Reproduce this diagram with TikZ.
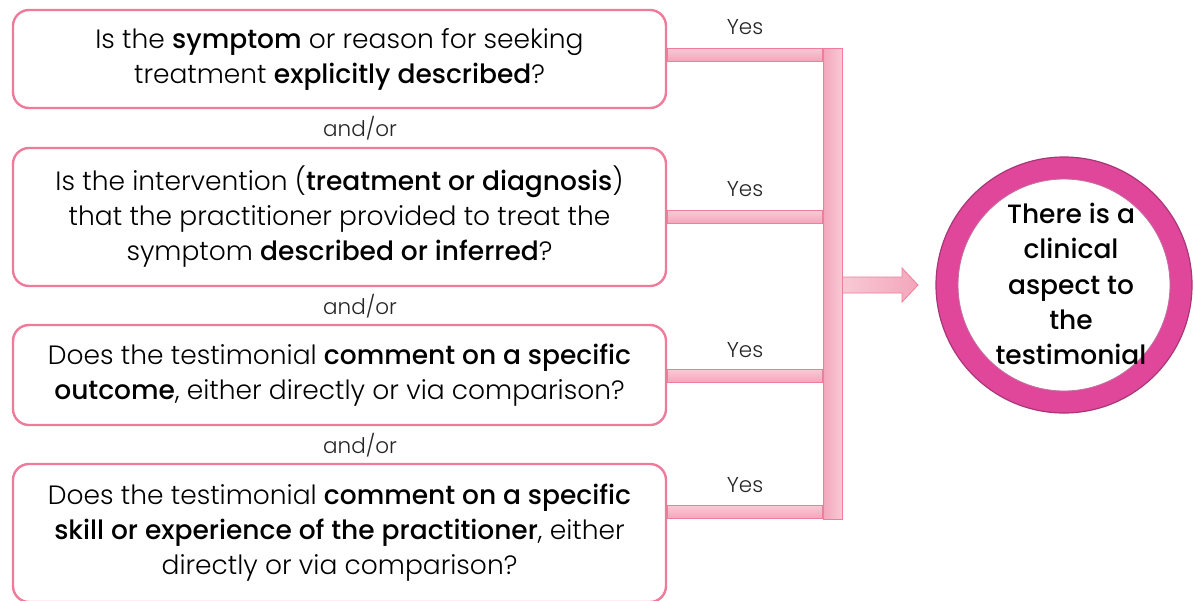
\documentclass[tikz,border=0pt]{standalone}
\usepackage{fontspec}
\setmainfont{Poppins}[UprightFont=* Light, BoldFont=* Medium]
\usetikzlibrary{calc}
\definecolor{boxline}{HTML}{EF7B9B}
\definecolor{barA}{HTML}{F3A6BB}
\definecolor{barB}{HTML}{F9C9D5}
\definecolor{barline}{HTML}{EE7E9C}
\definecolor{ring}{HTML}{E0479B}
\definecolor{ringdark}{HTML}{A93676}
\begin{document}
\begin{tikzpicture}[x=1pt,y=-1pt,
  qbox/.style={draw=boxline, line width=2.4pt, rounded corners=16pt, fill=white,
    minimum width=653pt, align=center, inner sep=0pt,
    font=\fontsize{26.5}{35}\selectfont, text=black},
  andor/.style={font=\fontsize{21.5}{22}\selectfont, text=black!85},
  yes/.style={font=\fontsize{21.5}{22}\selectfont, text=black!85},
  hbar/.style={draw=barline, line width=0.8pt, top color=barB, bottom color=barA},
  vbar/.style={draw=barline, line width=0.8pt, left color=barA, right color=barB},
  goal/.style={font=\bfseries\fontsize{26.5}{35.3}\selectfont, align=center, text=black}
]
\useasboundingbox (0,0) rectangle (1194,600);

% question boxes
\node[qbox, minimum height=98pt] (b1) at (339.5,59)
  {Is the \textbf{symptom} or reason for seeking\\treatment \textbf{explicitly described}?};
\node[qbox, minimum height=138pt] (b2) at (339.5,217)
  {Is the intervention (\textbf{treatment or diagnosis})\\that the practitioner provided to treat the\\symptom \textbf{described or inferred}?};
\node[qbox, minimum height=100pt] (b3) at (339.5,375)
  {Does the testimonial \textbf{comment on a specific}\\\textbf{outcome}, either directly or via comparison?};
\node[qbox, minimum height=138pt] (b4) at (339.5,533)
  {Does the testimonial \textbf{comment on a specific}\\\textbf{skill or experience of the practitioner}, either\\directly or via comparison?};

% and/or labels
\node[andor] (a1) at (360,128) {and/or};
\node[andor] (a2) at (360,306) {and/or};
\node[andor] (a3) at (360,445) {and/or};

% vertical bus
\node[vbar, minimum width=19pt, minimum height=471pt, inner sep=0pt] (bus) at (832.5,283.5) {};

% horizontal bars
\coordinate (y1) at (0,54.5);
\coordinate (y2) at (0,217);
\coordinate (y3) at (0,376);
\coordinate (y4) at (0,512);
\foreach \i in {1,2,3,4}{
  \path[hbar] ($(b\i.east |- y\i)+(0,-6.5)$) rectangle ($(bus.west |- y\i)+(0,6.5)$);
}

% yes labels
\node[yes] (l1) at (745,27) {Yes};
\node[yes] (l2) at (745,189) {Yes};
\node[yes] (l3) at (745,350) {Yes};
\node[yes] (l4) at (745,485) {Yes};

% goal circle
\node[circle, minimum size=256pt, inner sep=0pt] (goal) at (1064,285) {};
\draw[ring, line width=22pt] (goal.center) circle (117);
\draw[ringdark, line width=1.2pt] (goal.center) circle (128);
\draw[ringdark!70, line width=0.8pt] (goal.center) circle (106);
\node[goal] (gt) at (1071,284) {There is a\\clinical\\aspect to\\the\\testimonial};

% arrow to goal
\coordinate (as) at (bus.east |- 0,285);
\path[draw=barline, line width=0.8pt, left color=barB, right color=barA]
  ($(as)+(0,-8)$) -- (902,277) -- (902,268) -- (918,285) -- (902,302) -- (902,293) -- ($(as)+(0,8)$) -- cycle;
\end{tikzpicture}
\end{document}
